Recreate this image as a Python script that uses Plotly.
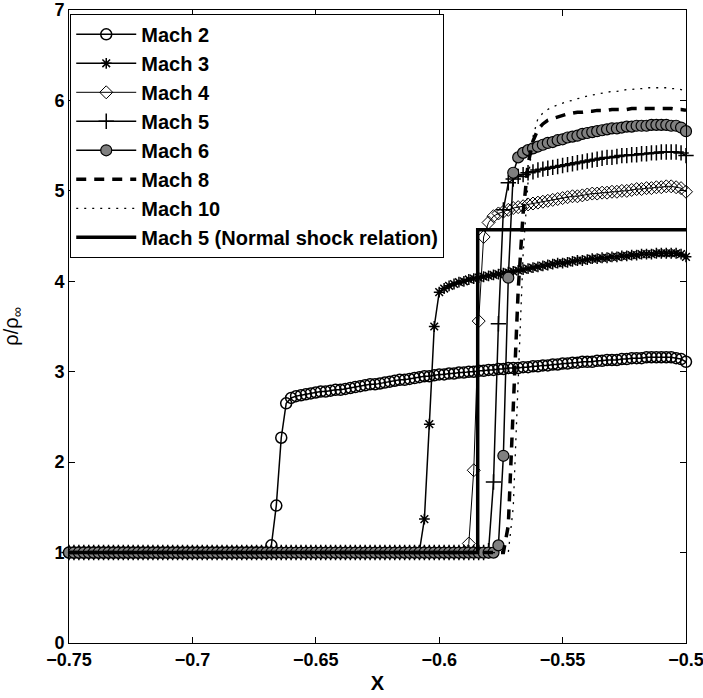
import numpy as np
import plotly.graph_objects as go

# x grid of the numerical solution (-0.75 ... -0.5, 126 points)
X_START = -0.75
X_STEP = 0.002
N_PTS = 126
x_grid = np.round(X_START + X_STEP * np.arange(N_PTS), 4)

mach2 = [1, 1, 1, 1, 1, 1, 1, 1, 1, 1,
         1, 1, 1, 1, 1, 1, 1, 1, 1, 1,
         1, 1, 1, 1, 1, 1, 1, 1, 1, 1,
         1, 1, 1, 1, 1, 1, 1, 1, 1, 1,
         1, 1.08, 1.52, 2.27, 2.65, 2.71, 2.73, 2.74, 2.75, 2.76,
         2.77, 2.78, 2.78, 2.79, 2.80, 2.80, 2.81, 2.82, 2.83, 2.84,
         2.85, 2.86, 2.86, 2.87, 2.88, 2.89, 2.90, 2.91, 2.91, 2.92,
         2.93, 2.94, 2.95, 2.95, 2.96, 2.97, 2.97, 2.98, 2.98, 2.99,
         2.99, 3.00, 3.00, 3.01, 3.01, 3.02, 3.02, 3.03, 3.03, 3.04,
         3.04, 3.04, 3.05, 3.05, 3.06, 3.06, 3.07, 3.07, 3.08, 3.08,
         3.09, 3.09, 3.10, 3.10, 3.11, 3.11, 3.11, 3.12, 3.12, 3.13,
         3.13, 3.13, 3.14, 3.14, 3.15, 3.15, 3.15, 3.16, 3.16, 3.16,
         3.16, 3.16, 3.16, 3.15, 3.14, 3.11]

mach3 = [1, 1, 1, 1, 1, 1, 1, 1, 1, 1,
         1, 1, 1, 1, 1, 1, 1, 1, 1, 1,
         1, 1, 1, 1, 1, 1, 1, 1, 1, 1,
         1, 1, 1, 1, 1, 1, 1, 1, 1, 1,
         1, 1, 1, 1, 1, 1, 1, 1, 1, 1,
         1, 1, 1, 1, 1, 1, 1, 1, 1, 1,
         1, 1, 1, 1, 1, 1, 1, 1, 1, 1,
         1, 1.02, 1.37, 2.42, 3.50, 3.88, 3.92, 3.95, 3.97, 3.99,
         4.00, 4.02, 4.03, 4.04, 4.05, 4.06, 4.07, 4.08, 4.09, 4.10,
         4.11, 4.12, 4.13, 4.14, 4.15, 4.16, 4.17, 4.18, 4.19, 4.20,
         4.20, 4.21, 4.22, 4.23, 4.23, 4.24, 4.25, 4.25, 4.26, 4.26,
         4.27, 4.27, 4.28, 4.28, 4.29, 4.29, 4.30, 4.30, 4.30, 4.31,
         4.31, 4.31, 4.31, 4.31, 4.30, 4.27]

mach4 = [1, 1, 1, 1, 1, 1, 1, 1, 1, 1,
         1, 1, 1, 1, 1, 1, 1, 1, 1, 1,
         1, 1, 1, 1, 1, 1, 1, 1, 1, 1,
         1, 1, 1, 1, 1, 1, 1, 1, 1, 1,
         1, 1, 1, 1, 1, 1, 1, 1, 1, 1,
         1, 1, 1, 1, 1, 1, 1, 1, 1, 1,
         1, 1, 1, 1, 1, 1, 1, 1, 1, 1,
         1, 1, 1, 1, 1, 1, 1, 1, 1, 1,
         1, 1.10, 1.91, 3.56, 4.49, 4.65, 4.72, 4.75, 4.77, 4.79,
         4.81, 4.82, 4.83, 4.85, 4.86, 4.87, 4.88, 4.89, 4.90, 4.91,
         4.92, 4.93, 4.94, 4.94, 4.95, 4.96, 4.97, 4.97, 4.98, 4.98,
         4.99, 4.99, 5.00, 5.00, 5.01, 5.02, 5.02, 5.03, 5.03, 5.04,
         5.04, 5.05, 5.05, 5.04, 5.03, 4.99]

mach5 = [1, 1, 1, 1, 1, 1, 1, 1, 1, 1,
         1, 1, 1, 1, 1, 1, 1, 1, 1, 1,
         1, 1, 1, 1, 1, 1, 1, 1, 1, 1,
         1, 1, 1, 1, 1, 1, 1, 1, 1, 1,
         1, 1, 1, 1, 1, 1, 1, 1, 1, 1,
         1, 1, 1, 1, 1, 1, 1, 1, 1, 1,
         1, 1, 1, 1, 1, 1, 1, 1, 1, 1,
         1, 1, 1, 1, 1, 1, 1, 1, 1, 1,
         1, 1, 1, 1, 1, 1.02, 1.78, 3.53, 4.79, 5.09,
         5.13, 5.16, 5.18, 5.20, 5.21, 5.23, 5.24, 5.25, 5.26, 5.27,
         5.28, 5.29, 5.30, 5.31, 5.32, 5.33, 5.34, 5.35, 5.36, 5.37,
         5.37, 5.38, 5.39, 5.39, 5.40, 5.40, 5.41, 5.41, 5.42, 5.42,
         5.43, 5.43, 5.43, 5.43, 5.42, 5.39]

mach6 = [1, 1, 1, 1, 1, 1, 1, 1, 1, 1,
         1, 1, 1, 1, 1, 1, 1, 1, 1, 1,
         1, 1, 1, 1, 1, 1, 1, 1, 1, 1,
         1, 1, 1, 1, 1, 1, 1, 1, 1, 1,
         1, 1, 1, 1, 1, 1, 1, 1, 1, 1,
         1, 1, 1, 1, 1, 1, 1, 1, 1, 1,
         1, 1, 1, 1, 1, 1, 1, 1, 1, 1,
         1, 1, 1, 1, 1, 1, 1, 1, 1, 1,
         1, 1, 1, 1, 1, 1, 1, 1.08, 2.07, 4.04,
         5.20, 5.37, 5.42, 5.45, 5.47, 5.49, 5.51, 5.53, 5.54, 5.56,
         5.57, 5.59, 5.60, 5.61, 5.63, 5.64, 5.65, 5.66, 5.67, 5.68,
         5.69, 5.69, 5.70, 5.71, 5.71, 5.72, 5.72, 5.72, 5.73, 5.73,
         5.73, 5.73, 5.72, 5.72, 5.70, 5.66]

mach8 = [1, 1, 1, 1, 1, 1, 1, 1, 1, 1,
         1, 1, 1, 1, 1, 1, 1, 1, 1, 1,
         1, 1, 1, 1, 1, 1, 1, 1, 1, 1,
         1, 1, 1, 1, 1, 1, 1, 1, 1, 1,
         1, 1, 1, 1, 1, 1, 1, 1, 1, 1,
         1, 1, 1, 1, 1, 1, 1, 1, 1, 1,
         1, 1, 1, 1, 1, 1, 1, 1, 1, 1,
         1, 1, 1, 1, 1, 1, 1, 1, 1, 1,
         1, 1, 1, 1, 1, 1, 1, 1, 1, 1.30,
         2.55, 3.90, 4.75, 5.30, 5.55, 5.68, 5.74, 5.78, 5.80, 5.82,
         5.84, 5.85, 5.86, 5.87, 5.87, 5.88, 5.88, 5.89, 5.89, 5.89,
         5.90, 5.90, 5.90, 5.90, 5.91, 5.91, 5.91, 5.91, 5.91, 5.91,
         5.91, 5.91, 5.91, 5.90, 5.90, 5.89]

mach10 = [1, 1, 1, 1, 1, 1, 1, 1, 1, 1,
          1, 1, 1, 1, 1, 1, 1, 1, 1, 1,
          1, 1, 1, 1, 1, 1, 1, 1, 1, 1,
          1, 1, 1, 1, 1, 1, 1, 1, 1, 1,
          1, 1, 1, 1, 1, 1, 1, 1, 1, 1,
          1, 1, 1, 1, 1, 1, 1, 1, 1, 1,
          1, 1, 1, 1, 1, 1, 1, 1, 1, 1,
          1, 1, 1, 1, 1, 1, 1, 1, 1, 1,
          1, 1, 1, 1, 1, 1, 1, 1, 1, 1,
          1.50, 2.90, 4.30, 5.10, 5.60, 5.80, 5.86, 5.90, 5.93, 5.95,
          5.97, 5.99, 6.00, 6.02, 6.03, 6.05, 6.06, 6.07, 6.08, 6.09,
          6.10, 6.10, 6.11, 6.12, 6.12, 6.13, 6.13, 6.14, 6.14, 6.14,
          6.14, 6.14, 6.13, 6.13, 6.12, 6.10]

# Mach 5 normal shock relation (step)
ns_x = [-0.75, -0.5844, -0.5844, -0.5]
ns_y = [1, 1, 4.57, 4.57]

for s in (mach2, mach3, mach4, mach5, mach6, mach8, mach10):
    assert len(s) == N_PTS, len(s)

BLACK = "black"
fig = go.Figure()

def add(name, y, line, marker=None, x=None):
    fig.add_trace(go.Scatter(
        x=x_grid if x is None else x, y=y, name=name, legendgroup=name,
        mode="lines+markers" if marker else "lines",
        line=line, marker=marker, cliponaxis=False))

add("Mach 2", mach2, dict(color=BLACK, width=1.5),
    dict(symbol="circle-open", size=11, color=BLACK, line=dict(width=1.5, color=BLACK)))
add("Mach 3", mach3, dict(color=BLACK, width=1.5),
    dict(symbol="asterisk-open", size=9, color=BLACK, line=dict(width=1.5, color=BLACK)))
add("Mach 4", mach4, dict(color=BLACK, width=1),
    dict(symbol="diamond-open", size=10, color=BLACK, line=dict(width=1, color=BLACK)))
add("Mach 5", mach5, dict(color=BLACK, width=1.5),
    dict(symbol="cross-thin-open", size=11, color=BLACK, line=dict(width=1.5, color=BLACK)))
add("Mach 6", mach6, dict(color=BLACK, width=1.5),
    dict(symbol="circle", size=11, color="#808080", line=dict(width=1.2, color=BLACK)))
add("Mach 8", mach8, dict(color=BLACK, width=3.5, dash="10px,8px"))
add("Mach 10", mach10, dict(color=BLACK, width=1.3, dash="2px,6px"))
add("Mach 5 (Normal shock relation)", ns_y, dict(color=BLACK, width=3.5), x=ns_x)

axis_common = dict(
    showline=True, linecolor=BLACK, linewidth=1, mirror="ticks",
    ticks="inside", ticklen=6, tickcolor=BLACK, tickwidth=1,
    showgrid=False, zeroline=False, automargin=False,
    ticklabeloverflow="allow",
    tickfont=dict(size=18, weight="bold", color=BLACK),
)

fig.update_layout(
    width=703, height=698,
    margin=dict(l=69, r=17, t=10, b=55),
    paper_bgcolor="white", plot_bgcolor="white",
    font=dict(family="Liberation Sans, Arial, sans-serif", color=BLACK),
    xaxis=dict(range=[-0.75, -0.5], tick0=-0.75, dtick=0.05,
               title=dict(text="X", font=dict(size=20, weight="bold"), standoff=7),
               **axis_common),
    yaxis=dict(range=[0, 7], tick0=0, dtick=1,
               title=dict(text="ρ/ρ<sub>∞</sub>", font=dict(size=20), standoff=36),
               **axis_common),
    legend=dict(x=0.002, y=0.994, xanchor="left", yanchor="top",
                bgcolor="white", bordercolor=BLACK, borderwidth=1,
                font=dict(size=20, weight="bold", color=BLACK),
                traceorder="grouped", tracegroupgap=0, itemwidth=60),
    showlegend=True,
)

# remove the page's default body margin so the figure fills the window exactly
fig.write_html("out.html",
               config={"displayModeBar": False},
               post_script="document.body.style.margin='0';document.body.style.overflow='hidden';")
